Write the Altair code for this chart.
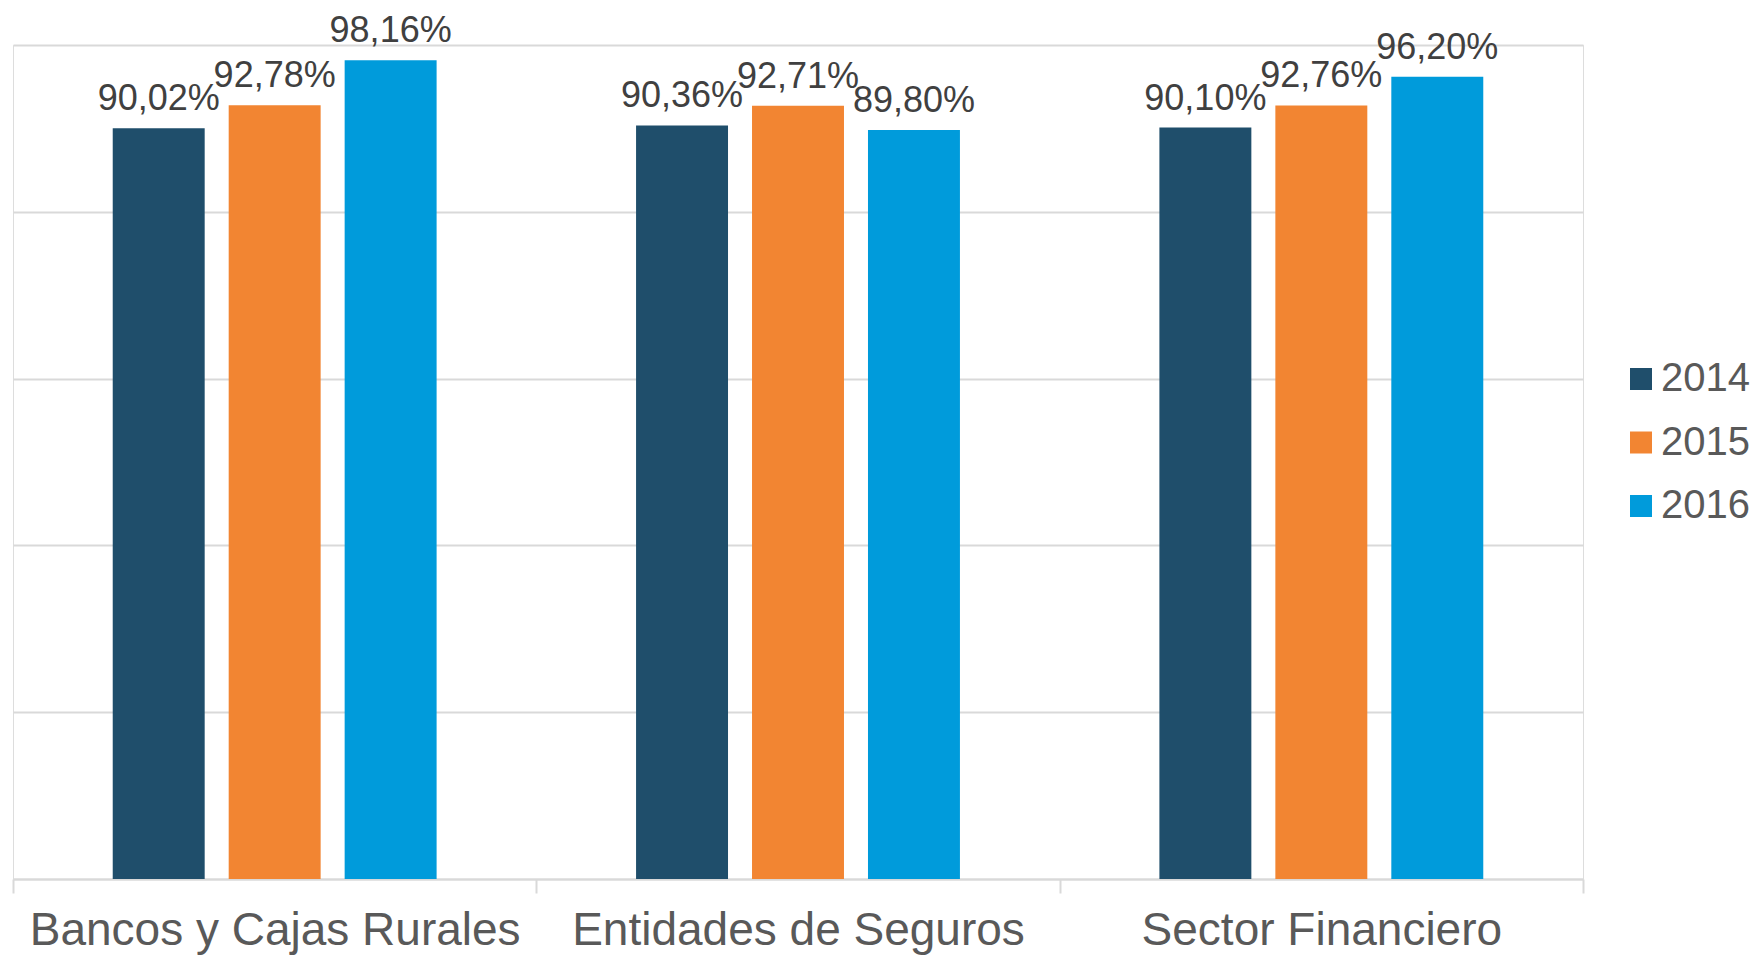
import altair as alt
import pandas as pd

categories = ["Bancos y Cajas Rurales", "Entidades de Seguros", "Sector Financiero"]
years = ["2014", "2015", "2016"]
v2014 = [0.9002, 0.9036, 0.9010]
v2015 = [0.9278, 0.9271, 0.9276]
v2016 = [0.9816, 0.8980, 0.9620]
colors = ["#1F4E6B", "#F28532", "#009BDB"]

rows = []
for i, c in enumerate(categories):
    for y, vals in zip(years, [v2014, v2015, v2016]):
        rows.append({"cat": c, "year": y, "v": vals[i]})
df = pd.DataFrame(rows)

FONT = "Liberation Sans"

base = alt.Chart(df).encode(
    x=alt.X("cat:N", sort=categories,
            scale=alt.Scale(paddingInner=0, paddingOuter=0),
            axis=alt.Axis(title=None, labelAngle=0, labelFontSize=46, labelColor="#595959",
                          labelFont=FONT, tickBand="extent", tickSize=14, tickColor="#D9D9D9",
                          tickWidth=2, domainColor="#D9D9D9", domainWidth=2, labelPadding=15,
                          grid=False, labelLimit=0)),
    xOffset=alt.XOffset("year:N", sort=years,
                        scale=alt.Scale(paddingInner=0.207, paddingOuter=0.86)),
    y=alt.Y("v:Q", scale=alt.Scale(domain=[0, 1]),
            axis=alt.Axis(title=None, labels=False, ticks=False, domain=False,
                          values=[0, 0.2, 0.4, 0.6, 0.8, 1.0], gridColor="#D9D9D9",
                          gridWidth=2)),
)

bars = base.mark_bar().encode(
    color=alt.Color("year:N", sort=years,
                    scale=alt.Scale(domain=years, range=colors),
                    legend=alt.Legend(title=None, orient="none", legendX=1608, legendY=314,
                                      symbolType="square", symbolSize=484, symbolStrokeWidth=0,
                                      labelFontSize=40, labelFont=FONT, labelColor="#595959",
                                      rowPadding=23.5, labelOffset=0, padding=0))
)

labels = base.mark_text(baseline="alphabetic", dy=-18, fontSize=36, font=FONT,
                        color="#404040").transform_calculate(
    lbl="replace(format(datum.v, '.2%'), '.', ',')"
).encode(text="lbl:N")

chart = (bars + labels).properties(
    width=1570, height=834,
    autosize=alt.AutoSizeParams(type="none"),
    padding={"left": 5, "top": 37, "right": 171, "bottom": 76},
).configure_view(stroke=None).configure(font=FONT)

chart.save("out.html", embed_options={"renderer": "svg", "actions": False})
